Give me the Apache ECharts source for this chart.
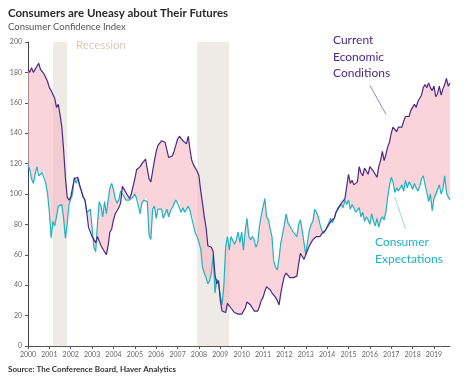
<!DOCTYPE html>
<html><head><meta charset="utf-8">
<script src="https://cdn.jsdelivr.net/npm/echarts@6/dist/echarts.min.js"></script>
<style>html,body{margin:0;padding:0;background:#fff}#c{width:472px;height:383px}</style>
</head><body><div id="c"></div>
<script>
const startYear = 2000;
const currentConditions = [
182,180,183,180,182,181,186,182,181,179,178,174,
170,168,167,163,157,159,152,144,129,111,98,96,
98,97,110,109,111,106,102,98,96,88,78,77,
72,70,68,72,71,66,64,62,60,66,75,77,
83,87,89,91,94,105,105,101,99,97,100,105,
110,116,117,118,120,121,123,122,110,108,115,122,
128,132,133,135,134,134,133,124,124,125,128,132,
136,138,139,135,134,133,138,129,122,119,117,115,
112,102,94,85,78,66,65,65,62,47,41,43,
30,23,22,22,28,27,25,24,22,22,21,20,
21,22,25,29,28,27,25,23,23,23,26,30,
32,36,39,40,37,35,34,32,30,27,35,41,
46,48,47,45,46,45,46,46,54,61,62,57,
60,63,66,68,70,71,72,71,72,74,75,76,
78,80,82,81,84,88,90,92,94,95,97,105,
113,107,109,106,105,108,118,114,112,117,115,113,
118,117,115,113,111,118,122,128,122,126,131,134,
140,144,143,141,144,145,144,148,151,152,151,155,
157,159,157,161,161,165,170,172,170,173,170,168,
171,164,166,171,165,169,172,176,171,173
];
const consumerExpectations = [
119,116,110,107,113,118,112,113,114,115,107,100,
88,71,82,79,85,92,93,93,84,71,80,93,
97,100,111,107,110,105,102,98,96,88,87,90,
78,65,62,80,95,92,85,95,87,96,104,107,
103,97,94,96,102,103,98,96,95,96,97,98,
100,97,96,87,94,96,97,95,73,70,90,92,
84,90,89,90,84,87,90,85,89,91,92,96,
94,95,88,91,88,90,92,89,84,83,74,72,
68,64,52,48,45,41,43,48,60,35,44,42,
33,27,40,65,72,63,72,72,67,70,75,68,
75,63,76,84,72,70,72,70,65,68,79,86,
87,97,85,83,77,72,56,52,50,58,68,74,
80,87,81,81,77,75,76,72,80,83,76,68,
60,69,76,80,82,90,88,85,80,76,74,76,
79,81,84,81,84,88,91,90,93,91,96,93,
96,90,93,91,88,88,91,85,88,82,85,83,
80,87,82,79,84,78,83,85,83,88,98,105,
111,108,101,104,102,104,106,102,109,104,108,106,
103,107,104,102,105,110,112,106,101,95,100,89,
97,100,99,106,100,103,112,101,98,96
];
const recessions = [['2001-03','2001-11'],['2007-12','2009-06']];
const yMin = 0, yMax = 200, yStep = 20;

const months = currentConditions.map((_, i) => {
  const y = startYear + Math.floor(i / 12), m = i % 12 + 1;
  return y + '-' + (m < 10 ? '0' + m : m);
});
const lower = currentConditions.map((v, i) => Math.min(v, consumerExpectations[i]));
const gap = currentConditions.map((v, i) => Math.abs(v - consumerExpectations[i]));
const isJan = (i, v) => String(v).endsWith('-01');
const FONT = 'Lato, "Noto Sans", sans-serif';
const PURPLE = '#4a2a85', CYAN = '#1fb2bf';

const chart = echarts.init(document.getElementById('c'), null, {renderer: 'canvas'});
chart.setOption({
  animation: false,
  grid: {left: 28, right: 22, top: 42, bottom: 37},
  xAxis: {
    type: 'category', data: months, boundaryGap: false,
    axisLine: {lineStyle: {color: '#555', width: 1}},
    axisTick: {show: true, interval: isJan, length: 3, lineStyle: {color: '#555'}},
    axisLabel: {interval: isJan, formatter: v => v.slice(0, 4), fontSize: 7, color: '#666', margin: 5, fontFamily: FONT}
  },
  yAxis: {
    type: 'value', min: yMin, max: yMax, interval: yStep,
    axisLine: {show: true, lineStyle: {color: '#444', width: 1}},
    axisTick: {show: true, length: 3, lineStyle: {color: '#555'}},
    splitLine: {show: false},
    axisLabel: {fontSize: 7, color: '#666', margin: 6, fontFamily: FONT}
  },
  series: [
    {type: 'line', data: lower, stack: 'band', symbol: 'none', lineStyle: {opacity: 0}, silent: true, z: 1},
    {type: 'line', data: gap, stack: 'band', symbol: 'none', lineStyle: {opacity: 0}, silent: true, z: 2,
     areaStyle: {color: 'rgba(247,184,195,0.6)', opacity: 1},
     markArea: {silent: true, itemStyle: {color: 'rgba(206,198,186,0.35)'},
       data: recessions.map(r => [{xAxis: r[0]}, {xAxis: r[1]}])}},
    {name: 'Current Economic Conditions', type: 'line', data: currentConditions, symbol: 'none', z: 4,
     lineStyle: {color: PURPLE, width: 1.2},
     markLine: {silent: true, symbol: ['none', 'arrow'], symbolSize: [0, 6], label: {show: false},
       lineStyle: {color: '#7c6aa6', width: 0.8, type: 'solid'},
       data: [[{coord: ['2016-01', 171.5]}, {coord: ['2016-10', 152.5]}]]}},
    {name: 'Consumer Expectations', type: 'line', data: consumerExpectations, symbol: 'none', z: 3,
     lineStyle: {color: CYAN, width: 1.2},
     markLine: {silent: true, symbol: ['none', 'arrow'], symbolSize: [0, 6], label: {show: false},
       lineStyle: {color: '#7fd0d8', width: 0.8, type: 'solid'},
       data: [[{coord: ['2017-09', 77]}, {coord: ['2017-03', 98]}]]}}
  ],
  graphic: [
    {type: 'text', left: 8, top: 7, style: {text: 'Consumers are Uneasy about Their Futures', font: 'bold 11.5px ' + FONT, fill: '#2a2a2a'}},
    {type: 'text', left: 8, top: 22, style: {text: 'Consumer Confidence Index', font: '9.5px ' + FONT, fill: '#555'}},
    {type: 'text', left: 76, top: 39, style: {text: 'Recession', font: '11.5px ' + FONT, fill: '#d5ccc0'}},
    {type: 'text', left: 333, top: 32, style: {text: 'Current\nEconomic\nConditions', font: '12px ' + FONT, fill: PURPLE, lineHeight: 16.5}},
    {type: 'text', left: 375, top: 234, style: {text: 'Consumer\nExpectations', font: '12px ' + FONT, fill: CYAN, lineHeight: 17}},
    {type: 'text', left: 8, top: 365, style: {text: 'Source: The Conference Board, Haver Analytics', font: 'bold 8px ' + FONT, fill: '#333'}}
  ]
});
</script></body></html>
